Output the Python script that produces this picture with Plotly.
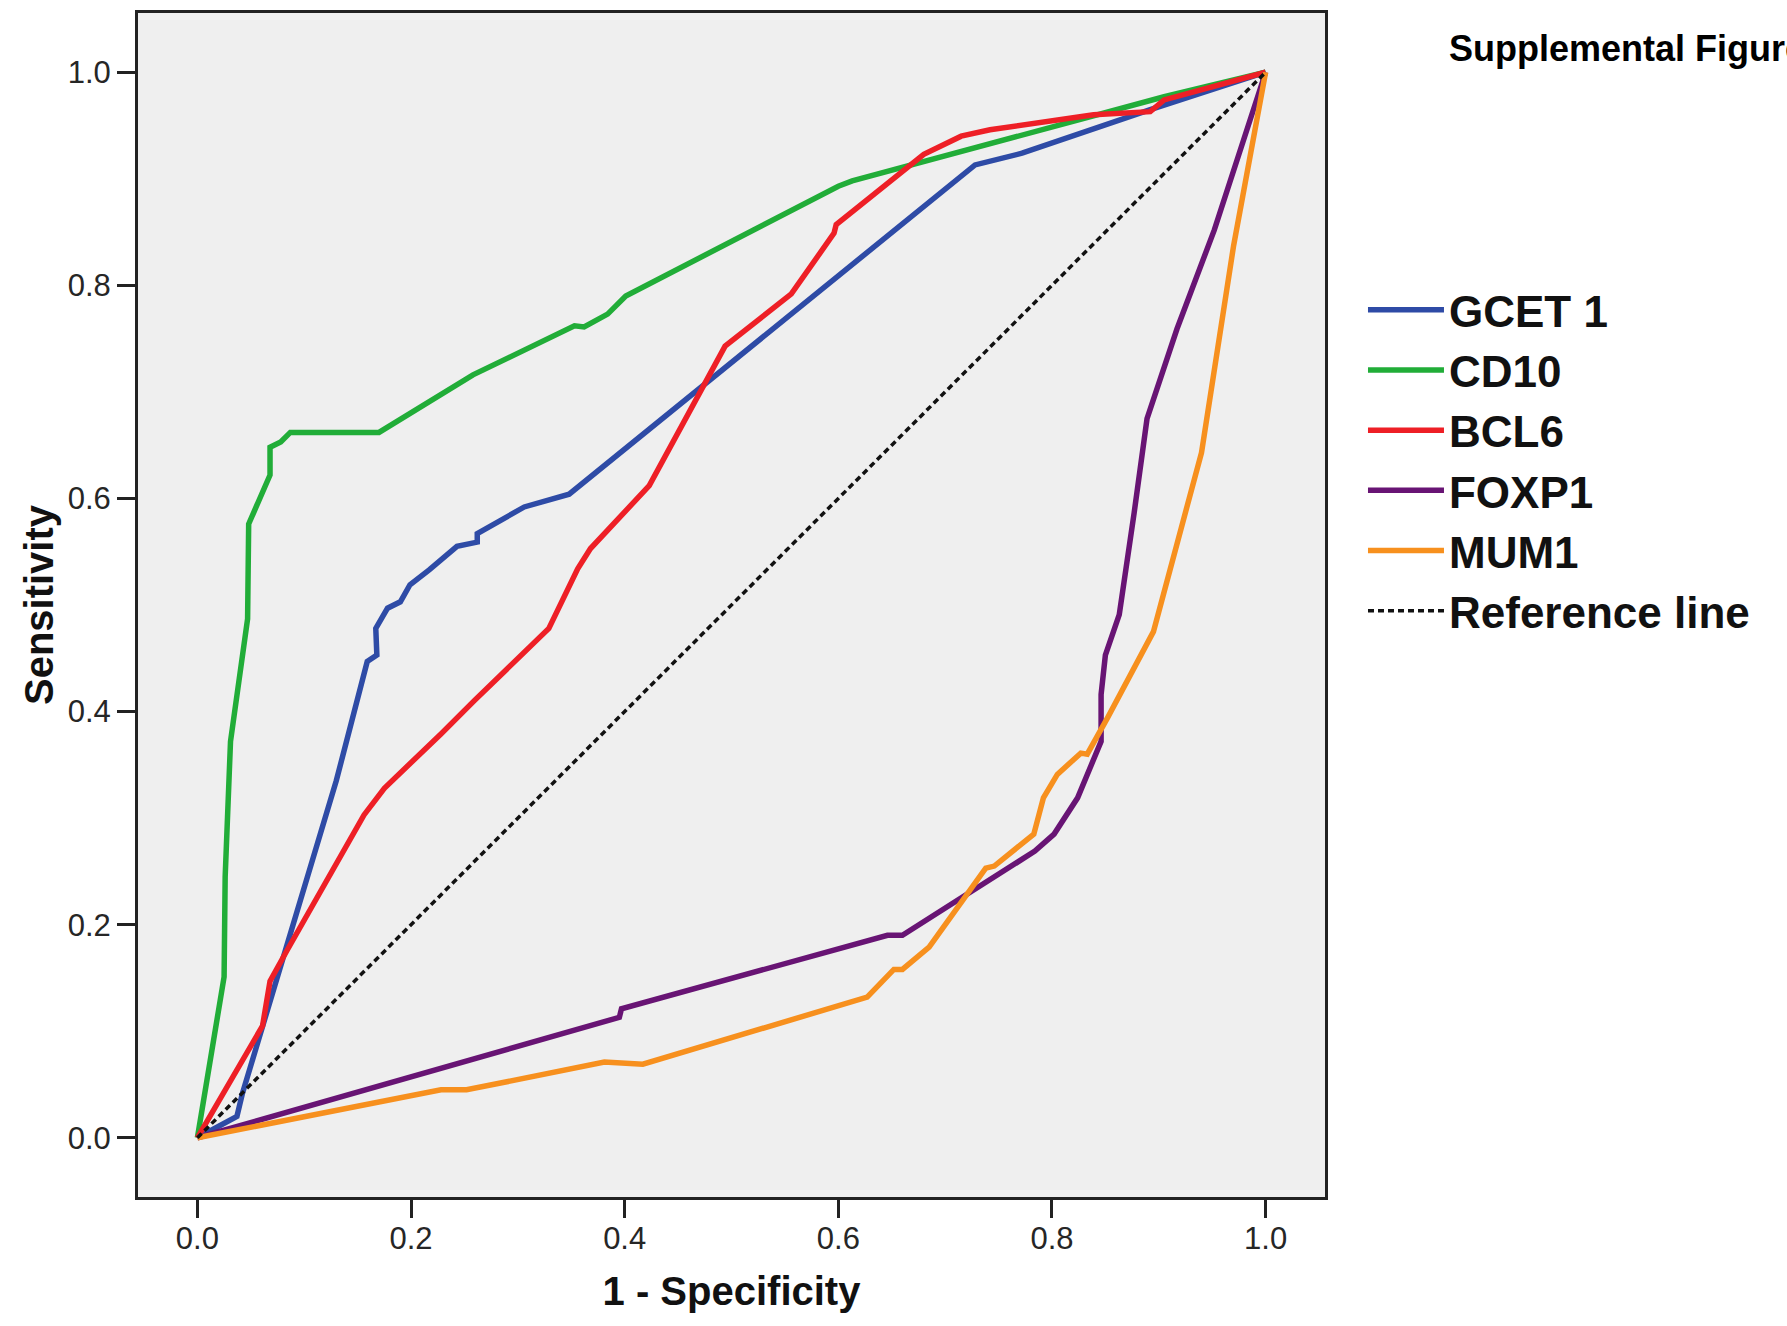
import plotly.graph_objects as go

# ---- data ----
gcet1_x = [0, 0.037, 0.042, 0.130, 0.159, 0.168, 0.167, 0.178, 0.190, 0.199, 0.217, 0.243, 0.262, 0.262, 0.306, 0.348, 0.728, 0.772, 0.892, 1.0]
gcet1_y = [0, 0.020, 0.041, 0.335, 0.447, 0.453, 0.478, 0.497, 0.503, 0.519, 0.533, 0.555, 0.559, 0.567, 0.592, 0.604, 0.913, 0.924, 0.965, 1.0]

cd10_x = [0, 0.025, 0.026, 0.031, 0.047, 0.048, 0.068, 0.068, 0.078, 0.087, 0.170, 0.245, 0.258, 0.353, 0.362, 0.384, 0.401, 0.600, 0.613, 0.905, 1.0]
cd10_y = [0, 0.151, 0.245, 0.372, 0.487, 0.576, 0.622, 0.648, 0.653, 0.662, 0.662, 0.708, 0.716, 0.762, 0.761, 0.773, 0.790, 0.893, 0.898, 0.977, 1.0]

bcl6_x = [0, 0.061, 0.068, 0.084, 0.156, 0.175, 0.228, 0.259, 0.329, 0.356, 0.368, 0.423, 0.494, 0.556, 0.596, 0.598, 0.680, 0.715, 0.742, 0.839, 0.892, 0.905, 1.0]
bcl6_y = [0, 0.105, 0.147, 0.176, 0.303, 0.328, 0.379, 0.410, 0.478, 0.534, 0.553, 0.612, 0.743, 0.792, 0.849, 0.857, 0.923, 0.940, 0.946, 0.960, 0.963, 0.974, 1.0]

foxp1_x = [0, 0.395, 0.397, 0.646, 0.660, 0.784, 0.802, 0.824, 0.846, 0.846, 0.850, 0.863, 0.877, 0.889, 0.917, 0.952, 1.0]
foxp1_y = [0, 0.113, 0.121, 0.190, 0.190, 0.269, 0.285, 0.319, 0.372, 0.416, 0.453, 0.491, 0.587, 0.675, 0.759, 0.852, 1.0]

mum1_x = [0, 0.228, 0.252, 0.381, 0.417, 0.627, 0.652, 0.660, 0.685, 0.738, 0.746, 0.783, 0.792, 0.805, 0.827, 0.833, 0.852, 0.895, 0.940, 0.970, 1.0]
mum1_y = [0, 0.045, 0.045, 0.071, 0.069, 0.132, 0.158, 0.158, 0.179, 0.253, 0.255, 0.285, 0.319, 0.341, 0.361, 0.360, 0.394, 0.475, 0.643, 0.837, 1.0]

ref_x = [0, 1]
ref_y = [0, 1]

tick_vals = [0.0, 0.2, 0.4, 0.6, 0.8, 1.0]
tick_text = ["0.0", "0.2", "0.4", "0.6", "0.8", "1.0"]

series = [
    ("GCET 1", gcet1_x, gcet1_y, "#2e4ba6"),
    ("CD10", cd10_x, cd10_y, "#21ad38"),
    ("BCL6", bcl6_x, bcl6_y, "#ee1f26"),
    ("FOXP1", foxp1_x, foxp1_y, "#681474"),
    ("MUM1", mum1_x, mum1_y, "#f7901e"),
]

FONT = "Liberation Sans, Arial, sans-serif"

fig = go.Figure()
for name, xs, ys, col in series:
    fig.add_trace(go.Scatter(x=xs, y=ys, mode="lines", name=name,
                             line=dict(color=col, width=5.5)))
fig.add_trace(go.Scatter(x=ref_x, y=ref_y, mode="lines", name="Reference line",
                         line=dict(color="#111111", width=3.5, dash="6px,4px")))

axis_common = dict(
    range=[-0.0556, 1.0556],
    tickvals=tick_vals, ticktext=tick_text,
    ticks="outside", ticklen=18, tickwidth=3, tickcolor="#222222",
    showline=True, linewidth=3, linecolor="#222222", mirror=True,
    showgrid=False, zeroline=False,
    tickfont=dict(family=FONT, size=31, color="#262626"),
)

fig.update_layout(
    width=1787, height=1326,
    margin=dict(l=138, r=462, t=10, b=129),
    paper_bgcolor="white", plot_bgcolor="#efefef",
    xaxis=dict(axis_common, ticklabelstandoff=-6,
               title=dict(text="<b>1 - Specificity</b>", standoff=22,
                          font=dict(family=FONT, size=40, color="#111111"))),
    yaxis=dict(axis_common,
               title=dict(text="<b>Sensitivity</b>", standoff=2,
                          font=dict(family=FONT, size=40, color="#111111"))),
    legend=dict(x=1.032, y=0.779, xanchor="left", yanchor="top",
                bgcolor="rgba(0,0,0,0)", itemwidth=76,
                font=dict(family=FONT, size=44, color="#111111", weight="bold"),
                tracegroupgap=0),
    showlegend=True,
    annotations=[dict(text="<b>Supplemental Figure</b>", xref="paper", yref="paper",
                      x=1.1025, y=0.970, xanchor="left", yanchor="middle",
                      showarrow=False,
                      font=dict(family=FONT, size=36, color="#000000"))],
)

fig.write_html("out.html")
